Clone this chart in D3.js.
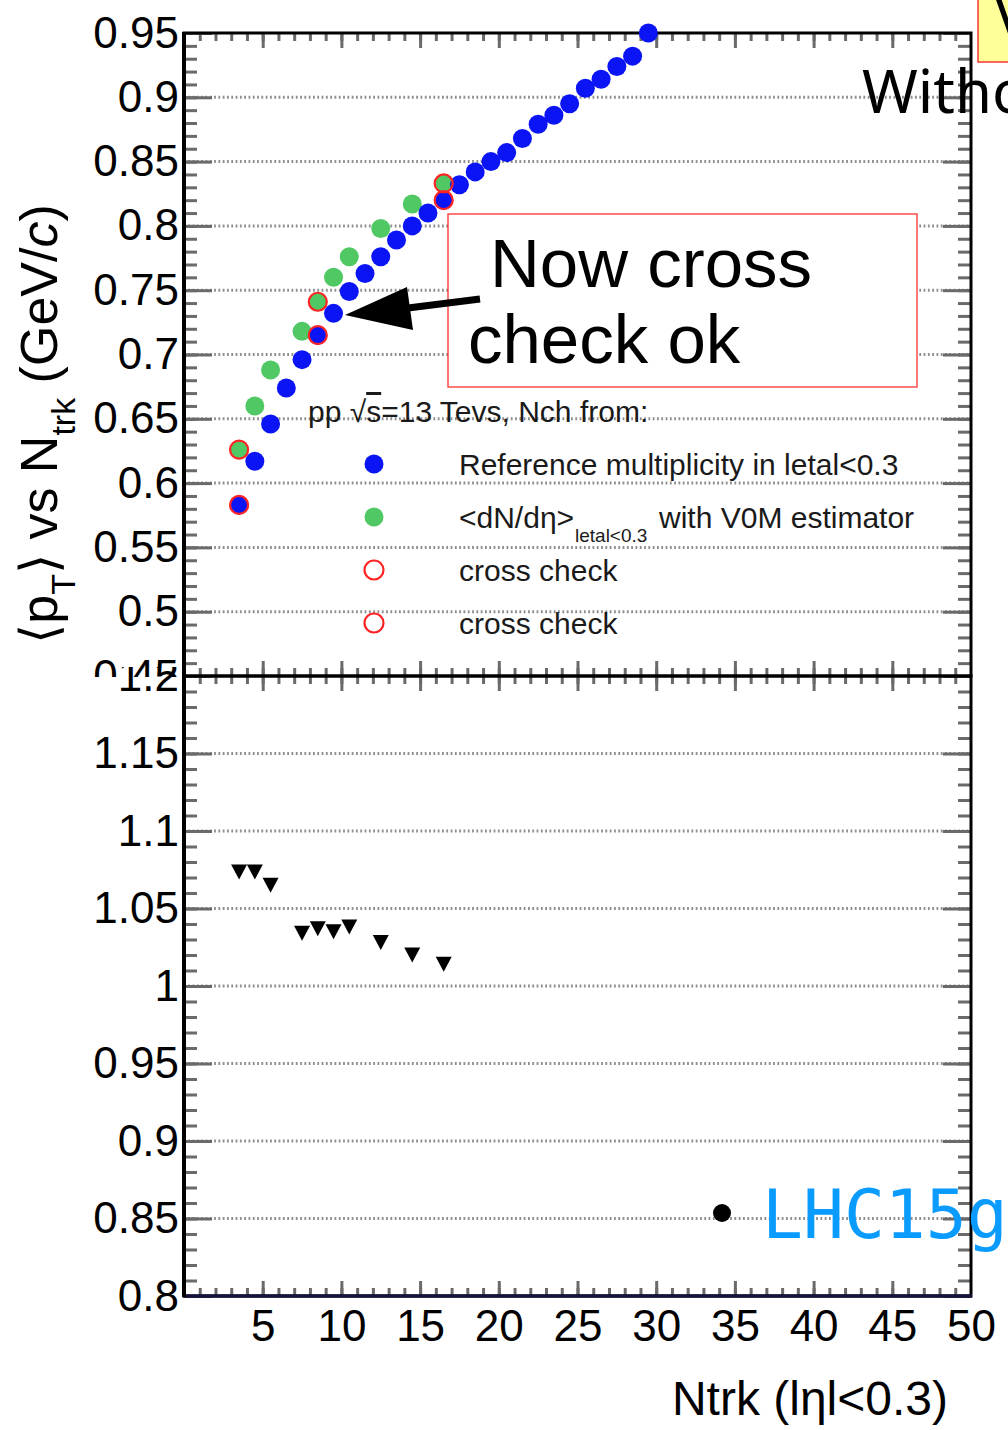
<!DOCTYPE html>
<html><head><meta charset="utf-8">
<script src="https://cdn.jsdelivr.net/npm/d3@7"></script>
<style>html,body{margin:0;padding:0;background:#fff;} svg{display:block;}</style>
</head><body>
<svg id="c" width="1008" height="1430"></svg>
<script>
// ---------------- data ----------------
const refNtrk = [3.5,4.5,5.5,6.5,7.5,8.5,9.5,10.5,11.5,12.5,13.5,14.5,15.5,16.5,17.5,18.5,19.5,20.5,21.5,22.5,23.5,24.5,25.5,26.5,27.5,28.5,29.5];
const refMeanPt = [0.583,0.617,0.646,0.674,0.696,0.715,0.732,0.749,0.763,0.776,0.789,0.800,0.810,0.820,0.832,0.842,0.850,0.857,0.868,0.879,0.886,0.895,0.907,0.914,0.924,0.932,0.950];
const v0mNtrk = [3.5,4.5,5.5,7.5,8.5,9.5,10.5,12.5,14.5,16.5];
const v0mMeanPt = [0.626,0.660,0.688,0.718,0.741,0.760,0.776,0.798,0.817,0.833];
const crossNtrkA = [3.5,8.5,16.5];
const crossMeanPtA = [0.626,0.741,0.833];
const crossNtrkB = [3.5,8.5,16.5];
const crossMeanPtB = [0.583,0.715,0.820];
const ratioNtrk = [3.5,4.5,5.5,7.5,8.5,9.5,10.5,12.5,14.5,16.5];
const ratioVals = [1.0735,1.0735,1.065,1.034,1.037,1.035,1.038,1.028,1.020,1.014];
const xTickVals = [5,10,15,20,25,30,35,40,45,50];
const xTickLabels = ["5","10","15","20","25","30","35","40","45","50"];
const yTopTickVals = [0.45,0.5,0.55,0.6,0.65,0.7,0.75,0.8,0.85,0.9,0.95];
const yTopTickLabels = ["0.45","0.5","0.55","0.6","0.65","0.7","0.75","0.8","0.85","0.9","0.95"];
const yBotTickVals = [0.8,0.85,0.9,0.95,1.0,1.05,1.1,1.15,1.2];
const yBotTickLabels = ["0.8","0.85","0.9","0.95","1","1.05","1.1","1.15","1.2"];
const legendLabels = ["Reference multiplicity in letal<0.3","<dN/d\u03B7>","cross check","cross check"];

// ---------------- layout ----------------
const W = 1008, H = 1430;
const X0 = 184, X1 = 971, TOP = 33, MID = 676, BOT = 1296;
const BLUE = "#0a14f5", GREEN = "#50c864", RED = "#ff2424";
const FONT = "'Liberation Sans', Arial, Helvetica, sans-serif";

const svg = d3.select("#c");
svg.append("rect").attr("width", W).attr("height", H).attr("fill", "#fff");

const x = d3.scaleLinear().domain([0, 50]).range([X0, X1]);
const yT = d3.scaleLinear().domain([0.45, 0.95]).range([MID, TOP]);
const yB = d3.scaleLinear().domain([0.8, 1.2]).range([BOT, MID]);

const defs = svg.append("defs");
defs.append("clipPath").attr("id", "clipTopLab").append("rect").attr("x", -X0).attr("y", 0).attr("width", X0).attr("height", 677);
defs.append("clipPath").attr("id", "clipBotLab").append("rect").attr("x", -X0).attr("y", 667).attr("width", X0).attr("height", H);

// ---------------- grids ----------------
function grid(scale, vals, lo, hi) {
  svg.append("g").selectAll("line").data(vals.filter(v => v > lo + 1e-9 && v < hi - 1e-9)).join("line")
    .attr("x1", X0).attr("x2", X1)
    .attr("y1", d => scale(d)).attr("y2", d => scale(d))
    .attr("stroke", "#8e8e8e").attr("stroke-width", 3).attr("stroke-dasharray", "1.8 2.5");
}
grid(yT, yTopTickVals, 0.45, 0.95);
grid(yB, yBotTickVals, 0.8, 1.2);

// ---------------- ticks ----------------
function tickGroup(axis, tx, ty) {
  const g = svg.append("g").attr("transform", `translate(${tx},${ty})`).call(axis);
  g.select(".domain").remove();
  g.selectAll("line").attr("stroke", "#6a6a6a").attr("stroke-width", 3);
  g.selectAll("text").remove();
  return g;
}
const yTMinor = yT.ticks(50), yBMinor = yB.ticks(40), xMinor = x.ticks(50);
tickGroup(d3.axisRight(yT).tickValues(yTMinor).tickSize(12).tickFormat(""), X0 + 1, 0);
tickGroup(d3.axisRight(yT).tickValues(yTopTickVals).tickSize(27).tickFormat(""), X0 + 1, 0);
tickGroup(d3.axisLeft(yT).tickValues(yTMinor).tickSize(12).tickFormat(""), X1 - 1, 0);
tickGroup(d3.axisLeft(yT).tickValues(yTopTickVals).tickSize(27).tickFormat(""), X1 - 1, 0);
tickGroup(d3.axisRight(yB).tickValues(yBMinor).tickSize(12).tickFormat(""), X0 + 1, 0);
tickGroup(d3.axisRight(yB).tickValues(yBotTickVals).tickSize(27).tickFormat(""), X0 + 1, 0);
tickGroup(d3.axisLeft(yB).tickValues(yBMinor).tickSize(12).tickFormat(""), X1 - 1, 0);
tickGroup(d3.axisLeft(yB).tickValues(yBotTickVals).tickSize(27).tickFormat(""), X1 - 1, 0);
const xInner = xMinor.filter(v => v > 0 && v < 50);
const xMajInner = xTickVals.filter(v => v < 50);
tickGroup(d3.axisBottom(x).tickValues(xInner).tickSize(8).tickFormat(""), 0, TOP);
tickGroup(d3.axisBottom(x).tickValues(xMajInner).tickSize(15).tickFormat(""), 0, TOP);
tickGroup(d3.axisTop(x).tickValues(xInner).tickSize(8).tickFormat(""), 0, MID);
tickGroup(d3.axisTop(x).tickValues(xMajInner).tickSize(15).tickFormat(""), 0, MID);
tickGroup(d3.axisBottom(x).tickValues(xInner).tickSize(8).tickFormat(""), 0, MID);
tickGroup(d3.axisBottom(x).tickValues(xMajInner).tickSize(15).tickFormat(""), 0, MID);
tickGroup(d3.axisTop(x).tickValues(xInner).tickSize(8).tickFormat(""), 0, BOT);
tickGroup(d3.axisTop(x).tickValues(xMajInner).tickSize(15).tickFormat(""), 0, BOT);

// ---------------- frames ----------------
svg.append("rect").attr("x", X0).attr("y", TOP).attr("width", X1 - X0).attr("height", MID - TOP)
  .attr("fill", "none").attr("stroke", "#000").attr("stroke-width", 3);
svg.append("rect").attr("x", X0).attr("y", MID).attr("width", X1 - X0).attr("height", BOT - MID)
  .attr("fill", "none").attr("stroke", "#000").attr("stroke-width", 3);
svg.append("line").attr("x1", X0 - 1).attr("x2", X1 + 1).attr("y1", BOT).attr("y2", BOT)
  .attr("stroke", "#14143a").attr("stroke-width", 3.5);
svg.append("line").attr("x1", X0).attr("x2", X0).attr("y1", TOP - 1).attr("y2", BOT + 1)
  .attr("stroke", "#000").attr("stroke-width", 4);

// ---------------- tick labels ----------------
function labelAxis(axis, tx, ty, clip) {
  const g = svg.append("g").attr("transform", `translate(${tx},${ty})`).call(axis);
  g.select(".domain").remove();
  g.selectAll("line").remove();
  g.selectAll("text").attr("font-family", FONT).attr("font-size", 44).attr("fill", "#000");
  g.attr("font-family", null).attr("font-size", null);
  if (clip) g.attr("clip-path", `url(#${clip})`);
  return g;
}
labelAxis(d3.axisLeft(yT).tickValues(yTopTickVals).tickSize(0).tickPadding(5)
  .tickFormat((d, i) => yTopTickLabels[i]), X0, 0, "clipTopLab");
labelAxis(d3.axisLeft(yB).tickValues(yBotTickVals).tickSize(0).tickPadding(5)
  .tickFormat((d, i) => yBotTickLabels[i]), X0, 0, "clipBotLab");
labelAxis(d3.axisBottom(x).tickValues(xTickVals).tickSize(0).tickPadding(14)
  .tickFormat((d, i) => xTickLabels[i]), 0, BOT, null);

// ---------------- data points (top panel) ----------------
svg.append("g").selectAll("circle").data(d3.zip(v0mNtrk, v0mMeanPt)).join("circle")
  .attr("cx", d => x(d[0])).attr("cy", d => yT(d[1])).attr("r", 9.5).attr("fill", GREEN);
svg.append("g").selectAll("circle").data(d3.zip(refNtrk, refMeanPt)).join("circle")
  .attr("cx", d => x(d[0])).attr("cy", d => yT(d[1])).attr("r", 9.5).attr("fill", BLUE);
svg.append("g").selectAll("circle").data(d3.zip(crossNtrkA, crossMeanPtA).concat(d3.zip(crossNtrkB, crossMeanPtB))).join("circle")
  .attr("cx", d => x(d[0])).attr("cy", d => yT(d[1])).attr("r", 9).attr("fill", "none")
  .attr("stroke", RED).attr("stroke-width", 2.2);

// ---------------- ratio (bottom panel) ----------------
const triDown = { draw(ctx, size) { const w = Math.sqrt(size); ctx.moveTo(-w / 2, -w * 0.47); ctx.lineTo(w / 2, -w * 0.47); ctx.lineTo(0, w * 0.47); ctx.closePath(); } };
svg.append("g").selectAll("path").data(d3.zip(ratioNtrk, ratioVals)).join("path")
  .attr("transform", d => `translate(${x(d[0])},${yB(d[1])})`)
  .attr("d", d3.symbol(triDown, 256)).attr("fill", "#000");

// ---------------- legend ----------------
const leg = svg.append("g").attr("font-family", FONT).attr("fill", "#1a1a1a");
const hdr = leg.append("text").attr("x", 308).attr("y", 422).attr("font-size", 30);
hdr.append("tspan").text("pp \u221A");
hdr.append("tspan").style("text-decoration", "overline").text("s");
hdr.append("tspan").text("=13 Tevs, Nch from:");
const legRows = [464, 517, 570, 623];
const legStyles = [{ fill: BLUE, stroke: "none" }, { fill: GREEN, stroke: "none" }, { fill: "none", stroke: RED }, { fill: "none", stroke: RED }];
leg.selectAll("circle").data(legStyles).join("circle")
  .attr("cx", 374).attr("cy", (d, i) => legRows[i]).attr("r", 9.5)
  .attr("fill", d => d.fill).attr("stroke", d => d.stroke).attr("stroke-width", 2.2);
leg.selectAll("text.lab").data(legendLabels).join("text").attr("class", "lab")
  .attr("x", 459).attr("y", (d, i) => legRows[i] + 11).attr("font-size", 30).text(d => d);
leg.append("text").attr("x", 575).attr("y", 542).attr("font-size", 19).text("letal<0.3");
leg.append("text").attr("x", 659).attr("y", 528).attr("font-size", 30).text("with V0M estimator");

// ---------------- annotation ----------------
svg.append("rect").attr("x", 448).attr("y", 214).attr("width", 469).attr("height", 173)
  .attr("fill", "#fff").attr("stroke", "#ff3030").attr("stroke-width", 1.3);
const ann = svg.append("g").attr("font-family", FONT).attr("font-size", 69).attr("fill", "#000");
ann.append("text").attr("x", 490).attr("y", 287).text("Now cross");
ann.append("text").attr("x", 468).attr("y", 363).text("check ok");
svg.append("line").attr("x1", 480).attr("y1", 299).attr("x2", 400).attr("y2", 309)
  .attr("stroke", "#000").attr("stroke-width", 7);
svg.append("path").attr("d", "M345,315L407,287L413,330Z").attr("fill", "#000");

// ---------------- axis titles ----------------
const yt = svg.append("text").attr("transform", "translate(57,424) rotate(-90)")
  .attr("text-anchor", "middle").attr("font-family", FONT).attr("font-size", 52).attr("fill", "#000");
yt.append("tspan").text("\u27E8p");
yt.append("tspan").attr("font-size", 34).attr("dy", 18).text("T");
yt.append("tspan").attr("dy", -18).text("\u27E9 vs N");
yt.append("tspan").attr("font-size", 34).attr("dy", 18).text("trk");
yt.append("tspan").attr("dy", -18).text(" (GeV/");
yt.append("tspan").attr("font-style", "italic").text("c");
yt.append("tspan").text(")");

svg.append("text").attr("x", 948).attr("y", 1415).attr("text-anchor", "end")
  .attr("font-family", FONT).attr("font-size", 48).attr("fill", "#000").text("Ntrk (l\u03B7l<0.3)");

// ---------------- slide overlays ----------------
svg.append("circle").attr("cx", 722).attr("cy", 1213).attr("r", 9).attr("fill", "#000");
svg.append("text").attr("x", 762).attr("y", 1238).attr("font-family", "'DejaVu Sans Mono', monospace")
  .attr("font-size", 68).attr("fill", "#0a9bff").text("LHC15g");
svg.append("text").attr("x", 862).attr("y", 113).attr("font-family", "'Noto Sans', sans-serif")
  .attr("font-size", 60).attr("fill", "#000").text("Witho");
svg.append("rect").attr("x", 978).attr("y", -5).attr("width", 40).attr("height", 67)
  .attr("fill", "#ffff99").attr("stroke", "#ff3333").attr("stroke-width", 1.5);
svg.append("text").attr("x", 995).attr("y", 40).attr("font-family", "'Noto Sans', sans-serif")
  .attr("font-size", 60).attr("fill", "#000").text("V");
</script>
</body></html>
